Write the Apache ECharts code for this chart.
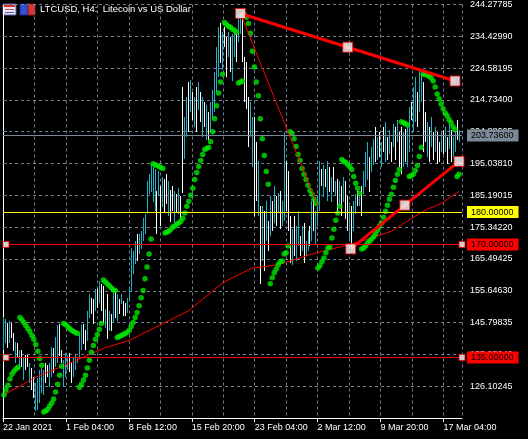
<!DOCTYPE html>
<html>
<head>
<meta charset="utf-8">
<script src="https://cdn.jsdelivr.net/npm/echarts@6/dist/echarts.min.js"></script>
<style>
html, body { margin: 0; padding: 0; background: #000; }
#chart { width: 528px; height: 439px; }
</style>
</head>
<body>
<div id="chart"></div>
<script>
// LTCUSD H4 bars, one entry per bar (highs / lows), C = up bar (cyan), W = down bar (white)
const highs = [147.4,147.0,145.8,146.4,145.8,142.7,139.7,139.4,137.2,137.2,
  135.0,135.7,135.7,133.2,131.7,128.9,127.0,128.6,131.0,131.7,
  131.0,133.2,132.6,133.2,138.1,137.8,141.2,144.9,145.5,137.2,
  134.1,136.3,135.7,136.3,133.5,134.7,135.7,135.0,142.7,144.9,
  145.5,143.4,149.5,154.7,153.5,153.2,156.3,156.3,158.7,157.8,
  157.2,150.1,154.7,149.5,148.6,155.5,155.7,154.7,153.2,154.7,
  152.6,152.0,153.5,156.6,168.9,168.0,171.0,173.2,173.2,174.1,
  178.1,179.4,189.5,191.7,195.0,194.1,193.2,186.4,192.6,188.0,
  191.0,190.1,191.7,189.5,187.0,188.0,186.4,185.5,187.4,184.9,
  218.7,209.5,215.7,220.3,220.9,217.2,215.7,218.7,220.3,217.2,
  215.7,214.1,213.2,211.0,214.1,217.8,223.4,231.0,237.2,238.7,
  235.7,237.2,234.1,235.7,234.1,235.0,235.7,235.4,241.2,241.5,
  240.3,228.0,226.4,215.7,214.1,209.5,209.5,201.8,195.7,181.8,
  181.8,180.3,183.4,177.2,184.9,183.4,188.0,184.9,185.8,186.4,
  183.4,204.9,195.7,192.6,178.7,174.7,178.7,175.7,180.3,172.6,
  175.7,176.6,171.0,174.1,175.7,183.4,184.0,180.3,184.9,195.7,
  193.2,194.7,193.5,195.7,194.1,191.0,194.1,189.5,190.1,189.5,
  188.0,191.0,189.5,184.9,181.8,181.8,183.4,185.5,186.4,184.9,
  188.0,192.6,198.7,201.8,197.2,200.3,202.7,206.4,203.4,204.9,
  201.8,206.4,208.0,203.4,205.5,201.8,207.4,206.4,208.6,204.9,
  206.4,204.9,205.8,206.7,212.6,214.1,218.7,221.8,217.2,224.0,
  224.0,220.3,211.0,208.0,206.4,209.5,204.9,206.4,204.9,201.8,
  204.9,205.5,206.4,203.4,207.4,205.5,203.4,204.9,208.6,205.5];

const lows = [137.2,139.7,138.1,139.7,141.2,137.2,133.2,135.0,131.0,132.0,
  128.0,131.0,132.0,127.0,124.9,122.4,118.4,118.7,120.9,124.0,
  123.4,127.0,128.9,125.8,128.9,130.1,132.0,133.2,135.7,133.2,
  125.8,128.9,131.0,130.4,127.0,128.9,131.0,133.2,134.7,137.2,
  139.4,137.2,140.3,147.4,148.6,145.5,149.5,150.4,152.0,149.5,
  145.5,144.3,140.9,143.4,143.4,145.5,147.4,146.4,148.6,151.7,
  148.0,148.0,148.9,152.6,155.7,160.9,164.0,164.9,167.0,168.6,
  171.0,173.2,179.4,185.5,186.4,183.4,180.3,173.2,184.9,175.7,
  181.8,179.7,182.4,178.7,177.2,180.3,176.6,179.7,179.4,177.8,
  185.8,196.6,203.4,204.9,211.0,208.6,206.4,204.9,211.7,208.0,
  203.4,206.4,202.4,202.4,204.9,208.9,211.0,217.2,221.8,226.4,
  224.0,231.0,221.8,228.0,223.4,220.3,228.0,226.4,232.6,235.0,
  226.4,214.1,212.0,200.3,203.4,194.1,178.7,183.4,178.7,157.8,
  164.9,161.8,171.0,168.0,172.6,174.1,176.6,175.7,179.7,174.7,
  175.7,177.2,180.3,174.1,164.3,163.4,166.4,164.9,169.5,166.4,
  168.0,164.3,166.4,168.0,169.5,171.0,174.1,170.1,175.7,180.3,
  188.0,184.9,188.0,183.4,186.4,183.4,186.4,184.9,179.4,181.8,
  178.7,183.4,177.8,174.1,171.0,168.6,174.1,179.4,181.8,181.8,
  178.7,185.5,188.0,190.1,186.4,192.6,194.7,195.7,196.3,197.2,
  194.1,198.7,195.7,196.3,198.1,195.7,200.3,196.3,201.8,194.1,
  192.0,194.1,195.7,194.1,198.7,208.6,204.9,208.0,206.4,211.0,
  214.1,198.7,201.8,197.2,195.7,200.3,196.3,198.7,195.0,195.7,
  198.7,198.1,198.7,195.0,199.7,195.7,197.2,198.7,202.4,201.8];

const barDir = 'CCWCWWCWCW' + 'CWWCWWCCCC' + 'CWWCCWCCWW' + 'CCCWWCCCCC' +
  'WWCCWWCWCW' + 'WCWCWCWCWC' + 'WWCCCCCWCC' + 'CCCCCCCWCW' +
  'CWWCWWCWCW' + 'WCCWCWCWCW' + 'CWCWCCCCCW' + 'CWWCWCCWCC' +
  'WWWWCCWWCW' + 'CWCWCWCWCW' + 'CCWWWCWCCW' + 'CWCCWCWCCC' +
  'WCWCWCWCWC' + 'WCWWCWCCWC' + 'WCCCWCCWCW' + 'CWCWCWCWCW' +
  'WCWCCWCCWC' + 'CWWCWCWCWW' + 'CWCWCWCCWC';

// Parabolic SAR, one dot per bar
const sar = [123.4,124.9,126.4,128.3,129.8,130.7,131.4,132.0,147.4,146.7,
  145.8,144.9,144.0,143.0,141.8,140.6,139.0,136.9,134.7,132.6,
  118.1,118.4,119.0,120.0,120.9,122.1,124.3,126.7,129.5,132.3,
  145.5,145.2,144.6,144.0,143.4,143.0,142.7,142.4,125.8,126.7,
  128.0,129.5,131.7,134.1,136.6,138.7,140.6,142.1,143.7,145.5,
  159.0,158.4,157.8,157.2,156.6,156.0,155.7,141.2,141.5,141.8,
  142.1,142.4,142.7,143.4,144.6,145.8,147.4,148.9,151.0,153.5,
  155.7,159.4,163.0,167.0,171.7,195.0,194.7,194.4,194.1,193.8,
  193.5,173.5,173.8,174.1,174.7,175.4,175.7,176.3,176.6,177.2,
  178.1,179.7,181.8,183.4,185.2,187.4,190.1,192.3,194.1,196.0,
  197.8,199.4,199.7,200.0,201.8,204.9,208.9,212.9,216.9,220.3,
  222.7,238.7,238.1,237.5,237.2,236.6,236.3,235.7,220.0,220.3,
  220.6,241.2,240.3,238.4,235.4,229.8,224.9,220.3,216.0,208.9,
  202.7,197.5,192.6,188.6,157.8,159.7,161.2,162.4,163.7,164.6,
  164.9,167.0,167.4,169.5,204.9,204.3,202.7,200.3,197.8,196.0,
  193.5,191.7,190.1,188.3,186.7,185.5,184.0,182.7,162.7,163.4,
  164.6,165.8,167.4,168.9,169.2,172.0,174.7,177.5,179.7,181.8,
  196.3,195.7,195.4,194.7,194.1,193.2,191.0,188.9,187.4,185.8,
  168.6,168.9,169.5,170.4,171.0,171.7,172.3,173.2,174.4,175.7,
  176.6,178.4,180.3,182.1,184.0,185.5,187.7,189.8,191.7,193.2,
  208.0,207.7,207.4,207.0,191.0,191.3,191.7,192.9,194.4,197.2,
  200.0,222.7,222.7,222.4,222.1,221.5,220.6,218.7,216.6,215.0,
  213.5,212.0,210.7,209.8,208.6,207.7,206.4,205.5,191.0,191.7];

// moving average, read at some bars
const maBar = [0, 16, 33, 50, 63, 80, 93, 110, 115, 120, 125, 135, 141, 155, 165, 173, 180, 195, 203, 211, 220, 229];
const maVal = [123.4, 128.9, 133.2, 137.8, 140.3, 145.5, 149.5, 158.1, 159.7, 161.2, 162.7, 163.4, 164.3, 167.0, 168.6, 169.8, 171.0, 174.1, 177.2, 180.3, 182.7, 186.4];

// trend lines: [bar position, price]
const trendTop = [[119.5, 241.5], [227.5, 220.6]];
const trendBottom = [[175, 168.6], [229.5, 195.7]];
const trendThin = [[119.5, 241.5], [158.5, 181.8]];

// horizontal levels
const levelYellow = 180;
const levelsRed = [170, 135];
const bidPrice = 203.736;

const timeLabels = ['22 Jan 2021', '1 Feb 04:00', '8 Feb 12:00', '15 Feb 20:00', '23 Feb 04:00', '2 Mar 12:00', '9 Mar 20:00', '17 Mar 04:00'];
const priceMin = 116.2545;
const priceMax = 244.27785;
const priceStep = 9.84795;
const barCount = 231;
const labelStep = 95 / 3;

const CYAN = '#1db0c6';
const WHITE = '#ffffff';
const RED = '#ff0000';
const GREEN = '#00e600';
const GRID = '#6f8090';
const FONT = 'Liberation Sans';

const myChart = echarts.init(document.getElementById('chart'));

const barData = highs.map((h, i) => [i + 0.5, lows[i], h, barDir[i] === 'C' ? 1 : 0]);
const sarData = sar.map((v, i) => [i + 0.5, v]);
const maData = maBar.map((b, i) => [b + 0.5, maVal[i]]);

function mid(line) {
    return [(line[0][0] + line[1][0]) / 2, (line[0][1] + line[1][1]) / 2];
}

const anchors = [trendTop[0], mid(trendTop), trendTop[1], trendBottom[0], mid(trendBottom), trendBottom[1]];
const levelAnchors = [];
levelsRed.forEach(v => { levelAnchors.push([1.5, v]); levelAnchors.push([barCount, v]); });

// price tag on the right side of the scale
function level(value, color) {
    return {
        yAxis: value,
        lineStyle: { color: color, type: 'solid', width: 1 },
        label: {
            show: true, position: 'end', distance: 5,
            formatter: () => value.toFixed(5),
            backgroundColor: color, color: '#000', fontFamily: FONT, fontSize: 9,
            padding: [2, 5, 1, 4]
        }
    };
}

myChart.setOption({
    backgroundColor: '#000',
    animation: false,
    grid: { left: 0, right: 66, top: 2, bottom: 21 },
    xAxis: [{
        type: 'value', min: 0, max: barCount, interval: labelStep,
        axisLine: { show: true, lineStyle: { color: '#fff', width: 1 } },
        axisTick: { show: true, length: 4, lineStyle: { color: '#fff' } },
        axisLabel: {
            color: '#fff', fontFamily: FONT, fontSize: 9, align: 'left', margin: 5,
            showMaxLabel: false,
            formatter: v => {
                const k = Math.round(v / labelStep);
                return Math.abs(v - k * labelStep) < 0.01 && timeLabels[k] ? timeLabels[k] : '';
            }
        },
        splitLine: { show: false }
    }, {
        type: 'value', min: 0, max: barCount, interval: labelStep / 2,
        axisLine: { show: false }, axisTick: { show: false }, axisLabel: { show: false },
        splitLine: { show: true, lineStyle: { color: GRID, type: [3, 3], width: 1 } }
    }],
    yAxis: {
        type: 'value', position: 'right', min: priceMin, max: priceMax, interval: priceStep,
        axisLine: { show: true, lineStyle: { color: '#fff', width: 1 } },
        axisTick: { show: true, length: 4, lineStyle: { color: GRID } },
        axisLabel: {
            color: '#fff', fontFamily: FONT, fontSize: 9, margin: 8,
            showMinLabel: false,
            formatter: v => v.toFixed(5)
        },
        splitLine: { show: true, lineStyle: { color: GRID, type: [3, 3], width: 1 } }
    },
    graphic: [
        { type: 'rect', shape: { x: 3, y: 4, width: 13, height: 11 }, style: { fill: '#e6e6f2', stroke: '#5a5a9a', lineWidth: 1 } },
        { type: 'rect', shape: { x: 4, y: 5, width: 11, height: 2 }, style: { fill: '#d03030' } },
        { type: 'rect', shape: { x: 5, y: 9, width: 9, height: 1 }, style: { fill: '#d05050' } },
        { type: 'rect', shape: { x: 5, y: 12, width: 9, height: 1 }, style: { fill: '#5050c0' } },
        { type: 'rect', shape: { x: 20, y: 4, width: 8, height: 11 }, style: { fill: '#3550d8', stroke: '#202880', lineWidth: 1 } },
        { type: 'rect', shape: { x: 28, y: 4, width: 7, height: 11 }, style: { fill: '#d83535', stroke: '#802020', lineWidth: 1 } },
        {
            type: 'text', left: 40, top: 4,
            style: { text: 'LTCUSD, H4:  Litecoin vs US Dollar', fill: '#fff', font: '9.5px "Liberation Sans"' }
        }
    ],
    series: [
        {
            type: 'custom', name: 'bars', xAxisIndex: 0,
            data: barData,
            encode: { x: 0, y: [1, 2] },
            renderItem: (params, api) => {
                const top = api.coord([api.value(0), api.value(2)]);
                const bot = api.coord([api.value(0), api.value(1)]);
                return {
                    type: 'rect',
                    shape: { x: Math.floor(top[0]), y: Math.round(top[1]), width: 1, height: Math.max(1, Math.round(bot[1] - top[1])) },
                    style: { fill: api.value(3) ? CYAN : WHITE }
                };
            },
            markLine: {
                silent: true, symbol: ['none', 'none'], animation: false,
                data: [
                    level(bidPrice, '#7a8898'),
                    level(levelYellow, '#ffff00'),
                    ...levelsRed.map(v => level(v, RED))
                ]
            }
        },
        {
            type: 'line', name: 'MA', data: maData, showSymbol: false,
            lineStyle: { color: RED, width: 1 }, z: 3
        },
        {
            type: 'scatter', name: 'SAR', data: sarData, symbolSize: 5.5,
            itemStyle: { color: GREEN }, z: 4
        },
        {
            type: 'line', data: trendThin, showSymbol: false,
            lineStyle: { color: RED, width: 1 }, z: 5
        },
        {
            type: 'line', data: trendTop, showSymbol: false,
            lineStyle: { color: RED, width: 3 }, z: 5
        },
        {
            type: 'line', data: trendBottom, showSymbol: false,
            lineStyle: { color: RED, width: 3 }, z: 5
        },
        {
            type: 'scatter', data: anchors, symbol: 'rect', symbolSize: 10, clip: false,
            itemStyle: { color: '#fff', borderColor: RED, borderWidth: 1 }, z: 6
        },
        {
            type: 'scatter', data: levelAnchors, symbol: 'rect', symbolSize: 6, clip: false,
            itemStyle: { color: '#fff', borderColor: RED, borderWidth: 1 }, z: 6
        }
    ]
});
</script>
</body>
</html>
